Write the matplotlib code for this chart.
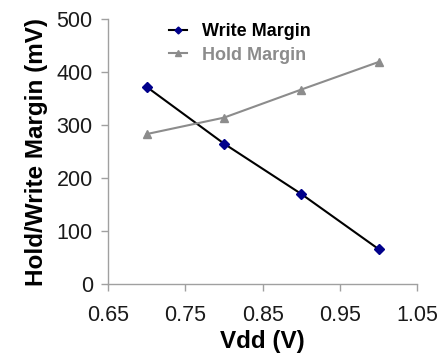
import matplotlib.pyplot as plt

vdd = [0.7, 0.8, 0.9, 1.0]
write_margin = [372, 265, 170, 66]
hold_margin = [283, 314, 367, 419]
xticks = [0.65, 0.75, 0.85, 0.95, 1.05]
yticks = [0, 100, 200, 300, 400, 500]

plt.rcParams['font.family'] = ['Liberation Sans', 'DejaVu Sans']

fig = plt.figure(figsize=(4.41, 3.6), dpi=100)
ax = fig.add_axes([0.245, 0.211, 0.701, 0.736])

ax.plot(vdd, write_margin, color='black', lw=1.5, marker='D', ms=5,
        mfc='#00008b', mec='#00008b', label='Write Margin')
ax.plot(vdd, hold_margin, color='#8c8c8c', lw=1.5, marker='^', ms=6,
        mfc='#8c8c8c', mec='#8c8c8c', label='Hold Margin')

ax.set_xlim(0.65, 1.05)
ax.set_ylim(0, 500)
ax.set_xticks(xticks)
ax.set_xticklabels([f'{t:.2f}' for t in xticks])
ax.set_yticks(yticks)

for s in ['top', 'right']:
    ax.spines[s].set_visible(False)
for s in ['left', 'bottom']:
    ax.spines[s].set_color('#a0a0a0')
    ax.spines[s].set_linewidth(1)
ax.tick_params(colors='#a0a0a0', labelcolor='#1a1a1a', labelsize=15.5,
               length=5, width=1)
ax.tick_params(axis='x', pad=10)
ax.tick_params(axis='y', pad=6)

ax.set_xlabel('Vdd (V)', fontsize=17.5, fontweight='bold', labelpad=3)
ax.set_ylabel('Hold/Write Margin (mV)', fontsize=17.5, fontweight='bold', labelpad=6)

leg = ax.legend(loc='upper left', bbox_to_anchor=(0.145, 1.045), frameon=False,
                prop={'weight': 'bold', 'size': 13}, handlelength=1.0,
                handletextpad=0.8, labelspacing=0.35, markerscale=0.7,
                labelcolor=['black', '#8c8c8c'])

fig.savefig('out.png', dpi=100)
